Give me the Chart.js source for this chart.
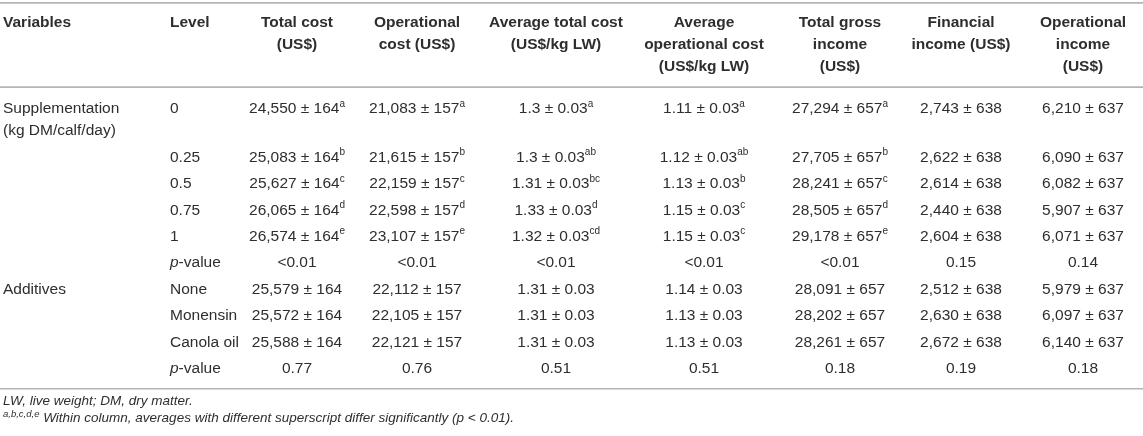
<!DOCTYPE html>
<html>
<head>
<meta charset="utf-8">
<script src="https://cdn.jsdelivr.net/npm/chart.js@4"></script>
<style>
  html, body { margin: 0; padding: 0; background: #fff; }
  #wrap { width: 1143px; height: 436px; position: relative; }
</style>
</head>
<body>
<div id="wrap"><canvas id="table"></canvas></div>
<script>
// header text, one entry per column, split into lines
const headers = [
  ['Variables'],
  ['Level'],
  ['Total cost', '(US$)'],
  ['Operational', 'cost (US$)'],
  ['Average total cost', '(US$/kg LW)'],
  ['Average', 'operational cost', '(US$/kg LW)'],
  ['Total gross', 'income', '(US$)'],
  ['Financial', 'income (US$)'],
  ['Operational', 'income', '(US$)']
];

const variables = [['Supplementation', '(kg DM/calf/day)'], [], [], [], [], [], ['Additives'], [], [], []];
const levels = ['0', '0.25', '0.5', '0.75', '1', 'p-value', 'None', 'Monensin', 'Canola oil', 'p-value'];

const totalCost = ['24,550 ± 164', '25,083 ± 164', '25,627 ± 164', '26,065 ± 164', '26,574 ± 164', '<0.01', '25,579 ± 164', '25,572 ± 164', '25,588 ± 164', '0.77'];
const totalCostSup = ['a', 'b', 'c', 'd', 'e', '', '', '', '', ''];

const operationalCost = ['21,083 ± 157', '21,615 ± 157', '22,159 ± 157', '22,598 ± 157', '23,107 ± 157', '<0.01', '22,112 ± 157', '22,105 ± 157', '22,121 ± 157', '0.76'];
const operationalCostSup = ['a', 'b', 'c', 'd', 'e', '', '', '', '', ''];

const avgTotalCost = ['1.3 ± 0.03', '1.3 ± 0.03', '1.31 ± 0.03', '1.33 ± 0.03', '1.32 ± 0.03', '<0.01', '1.31 ± 0.03', '1.31 ± 0.03', '1.31 ± 0.03', '0.51'];
const avgTotalCostSup = ['a', 'ab', 'bc', 'd', 'cd', '', '', '', '', ''];

const avgOperationalCost = ['1.11 ± 0.03', '1.12 ± 0.03', '1.13 ± 0.03', '1.15 ± 0.03', '1.15 ± 0.03', '<0.01', '1.14 ± 0.03', '1.13 ± 0.03', '1.13 ± 0.03', '0.51'];
const avgOperationalCostSup = ['a', 'ab', 'b', 'c', 'c', '', '', '', '', ''];

const grossIncome = ['27,294 ± 657', '27,705 ± 657', '28,241 ± 657', '28,505 ± 657', '29,178 ± 657', '<0.01', '28,091 ± 657', '28,202 ± 657', '28,261 ± 657', '0.18'];
const grossIncomeSup = ['a', 'b', 'c', 'd', 'e', '', '', '', '', ''];

const financialIncome = ['2,743 ± 638', '2,622 ± 638', '2,614 ± 638', '2,440 ± 638', '2,604 ± 638', '0.15', '2,512 ± 638', '2,630 ± 638', '2,672 ± 638', '0.19'];
const operationalIncome = ['6,210 ± 637', '6,090 ± 637', '6,082 ± 637', '5,907 ± 637', '6,071 ± 637', '0.14', '5,979 ± 637', '6,097 ± 637', '6,140 ± 637', '0.18'];

const footnote1 = 'LW, live weight; DM, dry matter.';
const footnote2Sup = 'a,b,c,d,e';
const footnote2 = ' Within column, averages with different superscript differ significantly (p < 0.01).';

// layout (x in page units, y in row units)
const colAnchor = [3, 170, 297, 417, 556, 704, 840, 961, 1083];
const colAlign = ['left', 'left', 'center', 'center', 'center', 'center', 'center', 'center', 'center'];
const valueCols = [
  [totalCost, totalCostSup],
  [operationalCost, operationalCostSup],
  [avgTotalCost, avgTotalCostSup],
  [avgOperationalCost, avgOperationalCostSup],
  [grossIncome, grossIncomeSup],
  [financialIncome, null],
  [operationalIncome, null]
];
const lineStep = 0.833;
const firstRow = 4.13;
const rowPos = [];
variables.forEach((v, i) => {
  if (i === 0) rowPos.push(firstRow);
  else rowPos.push(rowPos[i - 1] + 1 + lineStep * (Math.max(variables[i - 1].length, 1) - 1));
});
const topRule = 0.11;
const headFirst = 0.87;
const headRule = 3.3;
const bottomRule = rowPos[rowPos.length - 1] + 0.76;

const FAM = '"Liberation Sans", Arial, Helvetica, sans-serif';
const F = {
  body: '15.5px ' + FAM,
  bold: 'bold 15.5px ' + FAM,
  ital: 'italic 15.5px ' + FAM,
  sup: '10px ' + FAM,
  foot: 'italic 13.5px ' + FAM,
  footSup: 'italic 9.5px ' + FAM
};
const ink = '#2e2e2e';

function drawRich(ctx, segs, x, y, align) {
  let w = 0;
  segs.forEach(s => { ctx.font = s.font; s.w = ctx.measureText(s.t).width; w += s.w; });
  let cx = align === 'center' ? x - w / 2 : x;
  segs.forEach(s => {
    ctx.font = s.font;
    ctx.fillText(s.t, cx, y + (s.dy || 0));
    cx += s.w;
  });
}

function cellSegs(text, sup) {
  if (text === 'p-value') return [{ t: 'p', font: F.ital }, { t: '-value', font: F.body }];
  const segs = [{ t: text, font: F.body }];
  if (sup) segs.push({ t: sup, font: F.sup, dy: -5 });
  return segs;
}

const tablePlugin = {
  id: 'tableText',
  afterDatasetsDraw(chart) {
    const ctx = chart.ctx;
    const xs = chart.scales.x, ys = chart.scales.y;
    ctx.save();
    ctx.textBaseline = 'middle';
    ctx.fillStyle = ink;

    // rules
    ctx.strokeStyle = '#b4b4b4';
    ctx.lineWidth = 1.6;
    [topRule, headRule, bottomRule].forEach(v => {
      const py = ys.getPixelForValue(v);
      ctx.beginPath();
      ctx.moveTo(xs.left, py);
      ctx.lineTo(xs.right, py);
      ctx.stroke();
    });

    // header
    headers.forEach((lines, c) => {
      lines.forEach((ln, k) => {
        drawRich(ctx, [{ t: ln, font: F.bold }], xs.getPixelForValue(colAnchor[c]),
          ys.getPixelForValue(headFirst + k * lineStep), colAlign[c]);
      });
    });

    // cells, placed at each dataset point
    const linePx = ys.getPixelForValue(lineStep) - ys.getPixelForValue(0);
    chart.data.datasets.forEach((ds, di) => {
      const meta = chart.getDatasetMeta(di);
      meta.data.forEach((pt, r) => {
        ds.data[r].lines.forEach((segs, k) => {
          drawRich(ctx, segs, pt.x, pt.y + k * linePx, colAlign[di]);
        });
      });
    });

    // footnotes
    const fy1 = ys.getPixelForValue(bottomRule + 0.48);
    const fy2 = ys.getPixelForValue(bottomRule + 1.12);
    const fx = xs.getPixelForValue(colAnchor[0]);
    drawRich(ctx, [{ t: footnote1, font: F.foot }], fx, fy1, 'left');
    drawRich(ctx, [{ t: footnote2Sup, font: F.footSup, dy: -4 }, { t: footnote2, font: F.foot }], fx, fy2, 'left');
    ctx.restore();
  }
};

// one dataset per column; each point carries its cell text
const datasets = [];
datasets.push({
  data: variables.map((v, r) => ({ x: colAnchor[0], y: rowPos[r], lines: v.map(t => [{ t, font: F.body }]) }))
});
datasets.push({
  data: levels.map((v, r) => ({ x: colAnchor[1], y: rowPos[r], lines: [cellSegs(v, '')] }))
});
valueCols.forEach(([vals, sups], i) => {
  datasets.push({
    data: vals.map((v, r) => ({ x: colAnchor[i + 2], y: rowPos[r], lines: [cellSegs(v, sups ? sups[r] : '')] }))
  });
});
datasets.forEach(d => { d.pointRadius = 0; d.showLine = false; });

new Chart(document.getElementById('table'), {
  type: 'scatter',
  data: { datasets },
  options: {
    responsive: true,
    maintainAspectRatio: false,
    animation: false,
    layout: { padding: 0 },
    events: [],
    plugins: { legend: { display: false }, tooltip: { enabled: false } },
    scales: {
      x: { type: 'linear', display: false, min: 0, max: 1143 },
      y: { type: 'linear', display: false, reverse: true, min: 0, max: 436 / 26.4 }
    }
  },
  plugins: [tablePlugin]
});
</script>
</body>
</html>
